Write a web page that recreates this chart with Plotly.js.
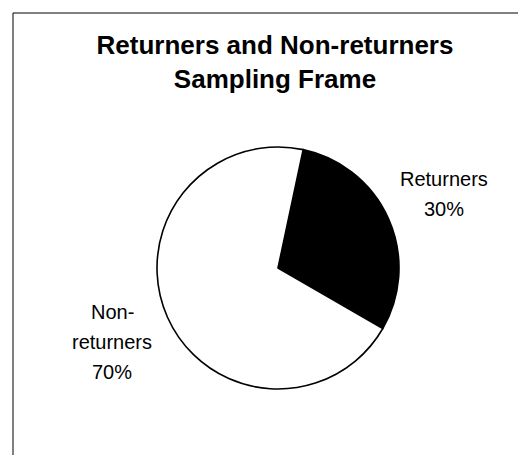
<!DOCTYPE html>
<html>
<head>
<meta charset="utf-8">
<script src="https://cdn.plot.ly/plotly-3.0.1.min.js"></script>
<style>
html,body{margin:0;padding:0;background:#fff;}
#chart{width:518px;height:455px;}
</style>
</head>
<body>
<div id="chart"></div>
<script>
var categories = ["Returners", "Non-returners"];
var labelLines = [["Returners"], ["Non-", "returners"]];
var shares = [30, 70];
var sliceColors = ["#000000", "#ffffff"];

var W = 518, H = 455;
var cx = 278, cy = 268, R = 121;
var rotation = 12;
var FONT = "Liberation Sans, Arial, sans-serif";

var trace = {
  type: "pie",
  labels: categories,
  values: shares,
  textinfo: "none",
  sort: false,
  direction: "clockwise",
  rotation: rotation,
  marker: {colors: sliceColors, line: {color: "#000000", width: 1.6}},
  domain: {x: [(cx - R) / W, (cx + R) / W], y: [(H - cy - R) / H, (H - cy + R) / H]},
  hoverinfo: "label+percent"
};

// data labels: placed on each slice's mid-angle ray, outside the pie
var total = shares.reduce(function (a, b) { return a + b; }, 0);
var annotations = [];
var cum = 0;
var labelDist = 1.5 * R, linePitch = 30;
shares.forEach(function (v, k) {
  var mid = rotation + 360 * (cum + v / 2) / total;
  cum += v;
  var t = mid * Math.PI / 180;
  var px = cx + labelDist * Math.sin(t);
  var py = cy - labelDist * Math.cos(t);
  var lines = labelLines[k].concat([Math.round(100 * v / total) + "%"]);
  var n = lines.length;
  lines.forEach(function (ln, i) {
    annotations.push({
      xref: "paper", yref: "paper",
      x: px / W, y: 1 - py / H,
      xanchor: "center", yanchor: "middle",
      yshift: ((n - 1) / 2 - i) * linePitch,
      text: ln, showarrow: false,
      font: {family: FONT, size: 20, color: "#000000"}
    });
  });
});

var layout = {
  width: W, height: H,
  margin: {l: 0, r: 0, t: 0, b: 0},
  paper_bgcolor: "#ffffff",
  showlegend: false,
  font: {family: FONT, color: "#000000"},
  title: {
    text: "<b>Returners and Non-returners<br>Sampling Frame</b>",
    font: {family: FONT, size: 26, color: "#000000"},
    x: 275 / W, xanchor: "center",
    y: 1 - 54 / H, yanchor: "top",
    xref: "container", yref: "container"
  },
  annotations: annotations,
  shapes: [
    {type: "line", xref: "paper", yref: "paper", x0: 13 / W, x1: 1.02, y0: 1 - 13 / H, y1: 1 - 13 / H, line: {color: "#000000", width: 1}},
    {type: "line", xref: "paper", yref: "paper", x0: 13 / W, x1: 13 / W, y0: 1 - 13 / H, y1: -0.02, line: {color: "#000000", width: 1}}
  ]
};

Plotly.newPlot("chart", [trace], layout, {displayModeBar: false, staticPlot: true});
</script>
</body>
</html>
